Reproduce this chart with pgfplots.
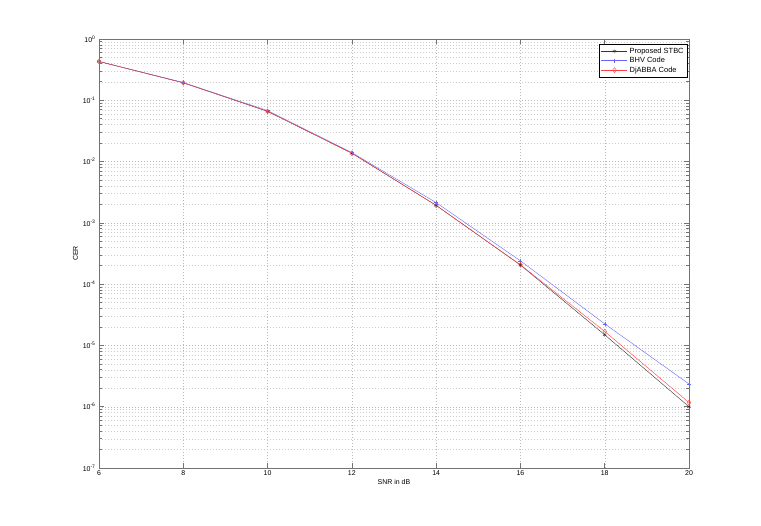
\documentclass[border=0pt]{standalone}
\usepackage{pgfplots}
\pgfplotsset{compat=1.18}
\usepackage{fontspec}
\setmainfont{Liberation Sans}
\begin{document}
\begin{tikzpicture}[x=1bp,y=1bp]
\useasboundingbox (-99bp,-58bp) rectangle (662bp,468bp);
\begin{axis}[
  at={(0,0)}, anchor=south west,
  scale only axis, width=590bp, height=429bp,
  xmin=6, xmax=20, ymode=log, ymin=1e-7, ymax=1,
  xtick={6,8,...,20},
  ytick={1e-7,1e-6,1e-5,1e-4,1e-3,1e-2,1e-1,1},
  yticklabels={10\textsuperscript{-7},10\textsuperscript{-6},10\textsuperscript{-5},10\textsuperscript{-4},10\textsuperscript{-3},10\textsuperscript{-2},10\textsuperscript{-1},10\textsuperscript{0}},
  /pgf/number format/assume math mode=true,
  tick align=inside,
  tick pos=both,
  grid=both,
  major grid style={gray!55, dash pattern=on 0.8bp off 2.2bp},
  minor grid style={gray!40, dash pattern=on 0.8bp off 2.2bp},
  axis line style={black!55, line width=0.9bp},
  tick style={black!55, line width=0.7bp},
  major tick length=5bp, minor tick length=3bp,
  ticklabel style={font=\fontsize{7}{8}\selectfont},
  xticklabel style={yshift=1bp},
  xlabel={SNR in dB}, ylabel={CER},
  label style={font=\fontsize{7}{8}\selectfont},
  xlabel style={yshift=3bp},
  ylabel style={yshift=-2bp},
  legend cell align=left,
  legend style={at={(rel axis cs:0.998,0.988)}, anchor=north east, font=\fontsize{7.5}{8.5}\selectfont, draw=black, inner xsep=2pt, inner ysep=1.5pt, row sep=-1.5pt},
  legend image code/.code={\draw[mark repeat=2,mark phase=2] plot coordinates {(0bp,0bp) (13bp,0bp) (26bp,0bp)};},
]
\addplot[black!80, mark=asterisk, mark size=2pt] coordinates {
(6,0.43) (8,0.193) (10,0.066) (12,0.0137) (14,0.00193) (16,2.05e-4) (18,1.49e-5) (20,1.0e-6)};
\addlegendentry{Proposed STBC}
\addplot[blue!60, mark=+, mark size=2pt] coordinates {
(6,0.43) (8,0.195) (10,0.068) (12,0.0140) (14,0.00214) (16,2.4e-4) (18,2.25e-5) (20,2.35e-6)};
\addlegendentry{BHV Code}
\addplot[red!75, mark=diamond, mark size=2.5pt] coordinates {
(6,0.43) (8,0.193) (10,0.066) (12,0.0137) (14,0.00193) (16,2.07e-4) (18,1.69e-5) (20,1.17e-6)};
\addlegendentry{DjABBA Code}
\end{axis}
\end{tikzpicture}
\end{document}
